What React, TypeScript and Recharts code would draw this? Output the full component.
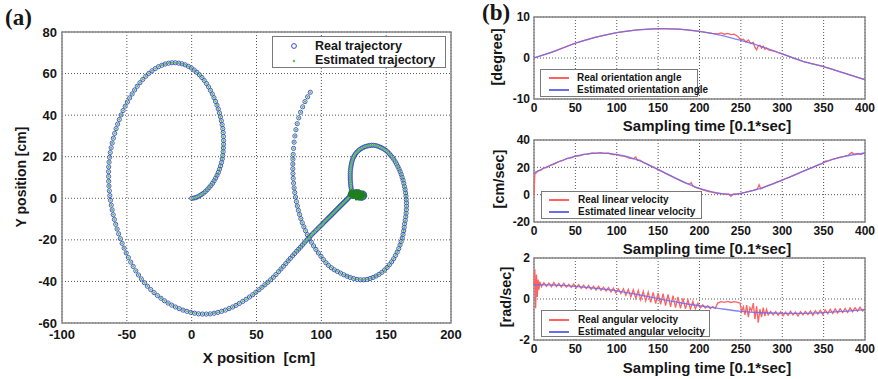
import React from 'react';
import {
  ScatterChart,
  Scatter,
  LineChart,
  Line,
  XAxis,
  YAxis,
  CartesianGrid,
  ReferenceArea,
} from 'recharts';

type Pair = [number, number];

const FONT = "'Liberation Sans', Arial, Helvetica, sans-serif";

// ---------- (a) robot trajectory, positions in cm, in travel order ----------
const outerArcStart: Pair[] = [
  [0, 0], [1.5, 0.1], [3, 0.3], [4.5, 0.7], [6, 1.2], [7.5, 1.8], [9, 2.4], [10.5, 3.2], [12, 4.1],
  [13.4, 5.1], [14.8, 6.1], [16.1, 7.2], [17.3, 8.4], [18.5, 9.7], [19.6, 11.1], [20.6, 12.5],
  [21.5, 14], [22.3, 15.6], [23, 17.2], [23.6, 18.9], [24, 20.6], [24.3, 22.4], [24.5, 24.2],
  [24.6, 26], [24.6, 27.8], [24.5, 29.7], [24.3, 31.6], [24, 33.5], [23.5, 35.4], [22.9, 37.3],
  [22.2, 39.2], [21.4, 41.1], [20.5, 43], [19.5, 44.8], [18.4, 46.6], [17.2, 48.4], [15.9, 50.2],
  [14.5, 51.9], [13, 53.6], [11.4, 55.2], [9.7, 56.7], [7.9, 58.1], [6, 59.4], [4, 60.6],
  [1.9, 61.7], [-0.3, 62.7], [-2.6, 63.5], [-5, 64.2], [-7.5, 64.7], [-10, 65], [-12.6, 65.2],
  [-15.2, 65.2], [-17.8, 65], [-20.4, 64.6],
];

const outerArcLeft: Pair[] = [
  [-23, 64], [-25.6, 63.3], [-28.1, 62.4], [-30.6, 61.3], [-33, 60.1], [-35.4, 58.7], [-37.7, 57.2],
  [-39.9, 55.6], [-42, 53.9], [-44, 52.1], [-45.9, 50.2], [-47.8, 48.3], [-49.6, 46.3], [-51.3, 44.3],
  [-52.9, 42.2], [-54.4, 40.1], [-55.8, 37.9], [-57.1, 35.7], [-58.3, 33.5], [-59.4, 31.2],
  [-60.4, 28.9], [-61.3, 26.6], [-62.1, 24.3], [-62.8, 22], [-63.3, 19.7], [-63.7, 17.4], [-64, 15.1],
  [-64.1, 12.8], [-64.1, 10.5], [-64, 8.2], [-63.8, 5.9], [-63.5, 3.6], [-63.1, 1.3], [-62.6, -1],
  [-62, -3.3], [-61.3, -5.6], [-60.5, -7.9], [-59.6, -10.2], [-58.6, -12.5], [-57.5, -14.8],
  [-56.3, -17.1], [-55, -19.4], [-53.6, -21.7], [-52.1, -24], [-50.5, -26.3], [-48.8, -28.5],
  [-47, -30.7], [-45.1, -32.8], [-43.1, -34.9], [-41, -36.9], [-38.8, -38.8], [-36.5, -40.6],
  [-34.1, -42.3], [-31.6, -43.9], [-29, -45.4], [-26.4, -46.8], [-23.7, -48.1], [-21, -49.3],
  [-18.2, -50.4], [-15.4, -51.4], [-12.5, -52.3], [-9.6, -53.1], [-6.7, -53.8], [-3.7, -54.4],
  [-0.7, -54.9], [2.3, -55.3], [5.3, -55.6], [8.3, -55.7], [11.3, -55.7], [14.3, -55.6],
  [17.3, -55.3], [20.2, -54.9], [23.1, -54.4], [26, -53.8], [28.8, -53.1], [31.6, -52.3],
];

const approachRun: Pair[] = [
  [34.2, -51.5], [36.8, -50.6], [39.4, -49.6], [42, -48.6], [44.6, -47.5], [47.1, -46.4],
  [49.5, -45.2], [51.9, -44], [54.2, -42.8], [56.5, -41.6], [58.7, -40.4], [60.9, -39.2], [63, -38],
  [65, -36.7], [67, -35.3], [68.9, -34], [70.8, -32.7], [72.6, -31.4], [74.4, -30.1], [76.1, -28.9],
  [77.8, -27.7], [79.4, -26.6], [81, -25.5], [82.5, -24.5], [84, -23.5], [85.4, -22.5], [86.8, -21.5],
  [88.1, -20.5], [89.4, -19.6], [90.7, -18.7], [92, -17.9], [93.2, -17.1], [94.4, -16.4],
  [95.5, -15.7], [96.6, -15], [97.7, -14.3], [98.7, -13.7], [99.7, -13.1], [100.7, -12.45],
  [101.6, -11.9], [102.5, -11.3], [103.4, -10.8], [104.3, -10.2], [105.1, -9.7], [105.9, -9.2],
  [106.7, -8.7], [107.5, -8.2], [108.2, -7.8], [108.9, -7.3], [109.6, -6.9], [110.3, -6.45],
  [111, -6], [111.7, -5.6], [112.4, -5.1], [113, -4.8], [113.6, -4.4], [114.2, -4], [114.8, -3.6],
  [115.4, -3.3], [116, -2.9], [116.6, -2.5], [117.2, -2.1], [117.8, -1.8], [118.4, -1.4], [119, -1],
  [119.6, -0.65], [120.2, -0.3], [120.8, 0.1], [121.4, 0.5], [122, 0.9], [122.6, 1.3], [123.2, 1.7],
  [123.8, 2],
];

const holdAndClimb: Pair[] = [
  [124.5, 2.4], [125.5, 2.9], [126.8, 3.2], [128.2, 3.1], [129.6, 2.8], [131, 2.6], [132.3, 2.5],
  [133.3, 2], [133.5, 1.2], [132.9, 0.5], [131.8, 0.1], [130.5, 0], [129.1, 0.2], [127.7, 0.6],
  [126.4, 1], [125.2, 1.5], [124.2, 2.2], [123.5, 3], [123.2, 3.9], [123, 4.8], [122.8, 5.7],
  [122.6, 6.6], [122.5, 7.5], [122.4, 8.4], [122.3, 9.3], [122.3, 10.2], [122.3, 11.1], [122.3, 12],
  [122.4, 12.9], [122.5, 13.8], [122.7, 14.7], [122.9, 15.6], [123.2, 16.5], [123.5, 17.4],
  [123.9, 18.3], [124.4, 19.2], [125, 20], [125.7, 20.8], [126.5, 21.5], [127.4, 22.2], [128.4, 22.8],
  [129.5, 23.4], [130.7, 23.9], [131.9, 24.3], [133.2, 24.7], [134.5, 25], [135.9, 25.2],
];

const innerLoopAndExit: Pair[] = [
  [137.3, 25.4], [138.7, 25.5], [140.1, 25.5], [141.5, 25.4], [142.9, 25.2], [144.3, 24.9],
  [145.7, 24.5], [147.1, 24.1], [148.5, 23.6], [149.8, 23], [151.1, 22.3], [152.4, 21.5],
  [153.6, 20.6], [154.8, 19.7], [155.9, 18.7], [157, 17.6], [158, 16.5], [159, 15.3], [159.9, 14.1],
  [160.8, 12.8], [161.6, 11.5], [162.3, 10.1], [163, 8.7], [163.6, 7.2], [164.1, 5.7], [164.6, 4.2],
  [165, 2.6], [165.3, 1], [165.5, -0.6], [165.7, -2.2], [165.7, -3.8], [165.6, -5.5], [165.4, -7.2],
  [165.1, -8.9], [164.7, -10.6], [164.2, -12.3], [163.9, -14], [163.5, -15.7], [163, -17.4],
  [162.4, -19.1], [161.6, -20.8], [160.7, -22.5], [159.7, -24.2], [158.5, -25.9], [157.2, -27.5],
  [155.8, -29.1], [154.2, -30.6], [152.5, -32], [150.7, -33.3], [148.8, -34.5], [146.7, -35.6],
  [144.5, -36.6], [142.2, -37.4], [139.9, -38.1], [137.6, -38.6], [135.2, -39], [132.7, -39.2],
  [130.1, -39.2], [127.5, -39], [124.9, -38.6], [122.3, -38.1], [119.8, -37.5], [117.3, -36.8],
  [114.8, -36], [112.4, -35.2], [110, -34.4], [107.7, -33.4], [105.5, -32.3], [103.5, -31],
  [101.6, -29.5], [99.7, -27.9], [97.7, -26.3], [95.8, -24.6], [94, -22.9], [92.3, -21.1],
  [90.7, -19.3], [89.2, -17.5], [87.8, -15.6], [86.5, -13.7], [85.3, -11.8], [84.2, -9.8],
  [83.2, -7.8], [82.3, -5.8], [81.5, -3.7], [80.8, -1.6], [80.1, 0.6], [79.5, 2.8], [79, 5],
  [78.6, 7.3], [78.3, 9.6], [78.1, 11.9], [78, 14.2], [78, 16.5], [78.1, 18.8], [78.3, 21.1],
  [78.6, 24], [79, 27], [79.6, 30], [80.4, 33], [81.4, 35.9], [82.6, 38.7], [84, 41.4], [85.6, 44],
  [87.4, 46.5], [89.4, 48.8], [91.5, 51],
];

// filter estimate while the robot is nearly stopped
const estimatedHold: Pair[] = [
  [123, 3.6], [125, 3.6], [127, 3.6], [129, 3.6],
  [122, 2.8], [124, 2.8], [126, 2.8], [128, 2.8], [130, 2.8], [132, 2.8],
  [121.5, 2], [123, 2], [125, 2], [127, 2], [129, 2], [131, 2], [133, 2],
  [122, 1.2], [124, 1.2], [126, 1.2], [128, 1.2], [130, 1.2], [132, 1.2], [133.8, 1.2],
  [124, 0.4], [126, 0.4], [128, 0.4], [130, 0.4], [132, 0.4],
  [127, -0.3], [129, -0.3], [131, -0.3],
];

const xTicksA = [-100, -50, 0, 50, 100, 150, 200];
const yTicksA = [-60, -40, -20, 0, 20, 40, 60, 80];

// ---------- (b) time histories, [sample, value] ----------
const timeTicks = [0, 50, 100, 150, 200, 250, 300, 350, 400];

const orientationEstimated: Pair[] = [
  [0, 0], [25, 1.7], [50, 3.6], [75, 5.1], [100, 6.2], [125, 6.85], [150, 7.15], [175, 7.05],
  [200, 6.5], [225, 5.6], [250, 4.3], [275, 2.8], [300, 1.0], [325, -0.8], [350, -2.1],
  [375, -3.7], [400, -5.3],
];
const orientationReal: Pair[] = [
  [0, 0], [25, 1.7], [50, 3.6], [75, 5.1], [100, 6.2], [125, 6.85], [150, 7.15], [175, 7.05],
  [200, 6.5], [215, 6.0], [222, 5.9], [226, 6.1], [230, 5.8], [234, 6.0], [238, 5.7], [242, 5.8],
  [246, 5.3], [250, 4.4], [253, 4.6], [256, 3.9], [259, 4.4], [262, 3.5], [265, 3.8], [267, 2.6],
  [269, 2.0], [271, 3.0], [273, 3.1], [275, 2.4], [277, 2.9], [279, 2.1], [281, 2.4], [284, 1.9],
  [290, 1.7], [300, 1.0], [325, -0.8], [350, -2.1], [375, -3.7], [400, -5.3],
];
const orientationTicks = [-10, 0, 10];

const linearEstimated: Pair[] = [
  [0, 16], [25, 23], [50, 28.2], [75, 30.4], [100, 29.5], [125, 25.5], [150, 18.5], [175, 11],
  [200, 4.6], [225, 0.9], [240, 0.1], [250, 0.9], [275, 4.8], [300, 10.6], [325, 17], [350, 23.5],
  [375, 28], [400, 30.5],
];
const linearReal: Pair[] = [
  [0, 0], [1, 15], [3, 16.2], [5, 17.5], [8, 17.8], [12, 19.5], [16, 20], [20, 21.5], [25, 22.5],
  [30, 24.2], [35, 25], [40, 26.5], [45, 27], [50, 28.3], [55, 28.4], [60, 29.5], [65, 29.6],
  [70, 30.6], [75, 30.2], [80, 30.8], [85, 30.2], [90, 30.3], [95, 29.4], [100, 29.3], [105, 28.4],
  [110, 28], [115, 26.8], [120, 26.2], [123, 27.5], [125, 25.2], [128, 25.2], [132, 23.5],
  [136, 22.5], [140, 21.2], [145, 19.8], [150, 18.3], [155, 16.8], [160, 15.2], [165, 13.7],
  [170, 12.2], [175, 10.8], [180, 9.3], [185, 8], [188, 7.7], [190, 8.8], [192, 6.3], [195, 5.3],
  [200, 4.5], [205, 3.4], [210, 2.5], [215, 1.8], [220, 1.2], [225, 0.8], [230, 0.4], [235, 0.3],
  [238, -1.2], [241, 0.6], [245, 0.4], [250, 1], [255, 1.6], [260, 2.4], [265, 3.2], [270, 4.2],
  [272, 7.3], [274, 4.3], [278, 5.5], [283, 6.8], [288, 7.8], [293, 9.2], [298, 10.1], [303, 11.6],
  [308, 12.6], [313, 14], [318, 15.2], [323, 16.6], [328, 17.7], [333, 19.1], [338, 20.2],
  [343, 21.6], [348, 22.6], [352, 24.5], [356, 24.9], [360, 25.8], [365, 26.6], [370, 27.5],
  [375, 28], [380, 29], [384, 30.9], [387, 29.4], [391, 30.2], [395, 29.6], [400, 30.5],
];
const linearTicks = [-20, 0, 20, 40];

const angularEstimated: Pair[] = [
  [0, 0.7], [25, 0.68], [50, 0.62], [75, 0.52], [100, 0.4], [125, 0.22], [150, 0.02], [175, -0.17],
  [200, -0.33], [225, -0.47], [250, -0.6], [275, -0.67], [300, -0.7], [325, -0.7], [350, -0.66],
  [375, -0.6], [400, -0.52],
];
const angularReal: Pair[] = [
  [0, 0.7], [1, 1.45], [2, -0.45], [3, 1.2], [4, 0.1], [5, 0.95], [6, 0.45], [7, 0.85], [9, 0.6],
  [12, 0.8], [15, 0.62], [18, 0.78], [21, 0.6], [24, 0.8], [27, 0.6], [30, 0.76], [33, 0.58],
  [36, 0.77], [39, 0.58], [42, 0.72], [45, 0.56], [48, 0.73], [51, 0.53], [54, 0.7], [57, 0.52],
  [60, 0.68], [63, 0.5], [66, 0.66], [69, 0.47], [72, 0.63], [75, 0.44], [78, 0.62], [81, 0.42],
  [84, 0.58], [87, 0.39], [90, 0.56], [93, 0.34], [96, 0.53], [99, 0.3], [102, 0.5], [105, 0.26],
  [108, 0.5], [111, 0.18], [114, 0.47], [117, 0.1], [120, 0.45], [123, 0.03], [126, 0.42],
  [129, -0.04], [132, 0.38], [135, -0.1], [138, 0.34], [141, -0.16], [144, 0.32], [147, -0.22],
  [150, 0.28], [153, -0.26], [156, 0.26], [159, -0.32], [162, 0.22], [165, -0.38], [168, 0.16],
  [171, -0.42], [174, 0.1], [177, -0.46], [180, 0.03], [183, -0.48], [186, -0.04], [189, -0.5],
  [192, -0.12], [195, -0.48], [198, -0.2], [201, -0.44], [204, -0.28], [207, -0.44], [210, -0.33],
  [213, -0.47], [216, -0.37], [219, -0.45], [222, -0.2], [226, -0.13], [230, -0.16], [234, -0.12],
  [238, -0.17], [242, -0.13], [246, -0.16], [249, -0.2], [251, -0.62], [253, -0.38], [255, -0.78],
  [257, -0.3], [259, -0.88], [261, -0.42], [263, -0.58], [265, -0.2], [267, -0.98], [269, -0.35],
  [271, -1.15], [273, -0.5], [275, -0.88], [277, -0.42], [279, -0.84], [281, -0.5], [283, -0.78],
  [286, -0.6], [289, -0.78], [292, -0.62], [295, -0.8], [298, -0.62], [301, -0.82], [304, -0.64],
  [307, -0.8], [310, -0.6], [313, -0.78], [316, -0.64], [319, -0.83], [322, -0.62], [325, -0.78],
  [328, -0.6], [331, -0.76], [334, -0.58], [337, -0.8], [340, -0.57], [343, -0.74], [346, -0.55],
  [349, -0.76], [352, -0.53], [355, -0.72], [358, -0.5], [361, -0.7], [364, -0.48], [367, -0.68],
  [370, -0.47], [373, -0.66], [376, -0.46], [379, -0.66], [382, -0.44], [385, -0.62], [388, -0.42],
  [391, -0.6], [394, -0.4], [397, -0.58], [400, -0.46],
];
const angularTicks = [-2, 0, 2];

// ---------- helpers ----------
const toXY = (pts: Pair[]) => pts.map(([x, y]) => ({ x, y }));
const toTV = (pts: Pair[]) => pts.map(([t, v]) => ({ t, v }));

const realPath = toXY([
  ...outerArcStart,
  ...outerArcLeft,
  ...approachRun,
  ...holdAndClimb,
  ...innerLoopAndExit,
]);
const estimatedPath = realPath;
const estimatedHoldPts = toXY(estimatedHold);

const RING = '#3a4bc4';
const GREEN = '#5cbf5c';
const GREEN_DARK = '#1f7f1f';
const RED = '#ff6262';
const BLUE = '#6c6cf0';
const GRID = '#5a5a5a';
const BOX = '#858585';
const INK = '#161616';

const ringShape = (p: any) => (
  <circle cx={p.cx} cy={p.cy} r={2.1} fill="none" stroke={RING} strokeWidth={0.9} />
);
const dotShape = (p: any) => <circle cx={p.cx} cy={p.cy} r={1.15} fill={GREEN} />;
const holdShape = (p: any) => <circle cx={p.cx} cy={p.cy} r={1.6} fill={GREEN_DARK} />;

const abs = (left: number, top: number): React.CSSProperties => ({
  position: 'absolute',
  left,
  top,
});

function Title({
  text,
  cx,
  cy,
  size,
  rotate = false,
}: {
  text: string;
  cx: number;
  cy: number;
  size: number;
  rotate?: boolean;
}) {
  return (
    <div
      style={{
        position: 'absolute',
        left: cx,
        top: cy,
        transform: `translate(-50%, -50%)${rotate ? ' rotate(-90deg)' : ''}`,
        whiteSpace: 'pre',
        fontFamily: FONT,
        fontWeight: 700,
        fontSize: size,
        lineHeight: 1,
        color: INK,
      }}
    >
      {text}
    </div>
  );
}

function PanelTag({ text, left, top }: { text: string; left: number; top: number }) {
  return (
    <div
      style={{
        ...abs(left, top),
        fontFamily: "'Liberation Serif', 'Times New Roman', serif",
        fontWeight: 700,
        fontSize: 23,
        lineHeight: 1,
        color: INK,
      }}
    >
      {text}
    </div>
  );
}

type LegendItem = { label: string; y: number; kind: 'ring' | 'dot' | 'line'; color: string };

function LegendBox({
  left,
  top,
  width,
  height,
  items,
  markerX,
  textX,
  fontSize,
}: {
  left: number;
  top: number;
  width: number;
  height: number;
  items: LegendItem[];
  markerX: number;
  textX: number;
  fontSize: number;
}) {
  return (
    <div
      style={{
        ...abs(left, top),
        width,
        height,
        boxSizing: 'border-box',
        border: '1px solid #7a7a7a',
        background: '#fff',
      }}
    >
      {items.map((it) => (
        <React.Fragment key={it.label}>
          <svg
            width={24}
            height={8}
            style={{ position: 'absolute', left: markerX - 12, top: it.y - 4 }}
          >
            {it.kind === 'ring' && (
              <circle cx={12} cy={4} r={2.4} fill="none" stroke={it.color} strokeWidth={1} />
            )}
            {it.kind === 'dot' && <circle cx={12} cy={4} r={1.2} fill={it.color} />}
            {it.kind === 'line' && (
              <line x1={2} y1={4} x2={22} y2={4} stroke={it.color} strokeWidth={2} />
            )}
          </svg>
          <div
            style={{
              position: 'absolute',
              left: textX,
              top: it.y - fontSize * 0.6,
              fontFamily: FONT,
              fontWeight: 700,
              fontSize,
              lineHeight: `${fontSize * 1.2}px`,
              whiteSpace: 'nowrap',
              color: INK,
            }}
          >
            {it.label}
          </div>
        </React.Fragment>
      ))}
    </div>
  );
}

const Y_AXIS_W = 40;
const X_AXIS_H = 20;

function TimePanel({
  top,
  height,
  marginTop,
  marginBottom,
  ticks,
  real,
  estimated,
}: {
  top: number;
  height: number;
  marginTop: number;
  marginBottom: number;
  ticks: number[];
  real: Pair[];
  estimated: Pair[];
}) {
  const lo = ticks[0];
  const hi = ticks[ticks.length - 1];
  const tickStyle = { fontSize: 12, fontWeight: 700, fill: INK, fontFamily: FONT };
  return (
    <div style={abs(480, top)}>
      <LineChart
        width={398}
        height={height}
        margin={{ top: marginTop, right: 13, bottom: marginBottom - X_AXIS_H, left: 54 - Y_AXIS_W }}
      >
        <CartesianGrid stroke={GRID} strokeDasharray="1 2" />
        <XAxis
          type="number"
          dataKey="t"
          domain={[0, 400]}
          ticks={timeTicks}
          height={X_AXIS_H}
          axisLine={false}
          tickLine={false}
          tickSize={2}
          tickMargin={2}
          tick={tickStyle}
          interval={0}
        />
        <YAxis
          type="number"
          dataKey="v"
          domain={[lo, hi]}
          ticks={ticks}
          width={Y_AXIS_W}
          axisLine={false}
          tickLine={false}
          tickSize={2}
          tickMargin={2}
          tick={tickStyle}
          interval={0}
        />
        <ReferenceArea x1={0} x2={400} y1={lo} y2={hi} fill="none" stroke={BOX} strokeWidth={1.4} />
        <Line
          data={toTV(real)}
          dataKey="v"
          type="linear"
          stroke={RED}
          strokeWidth={1.3}
          dot={false}
          activeDot={false}
          isAnimationActive={false}
        />
        <Line
          data={toTV(estimated)}
          dataKey="v"
          type="natural"
          stroke={BLUE}
          strokeOpacity={0.85}
          strokeWidth={1.3}
          dot={false}
          activeDot={false}
          isAnimationActive={false}
        />
      </LineChart>
    </div>
  );
}

export default function App() {
  const tickA = { fontSize: 13, fontWeight: 700, fill: INK, fontFamily: FONT };
  return (
    <div
      style={{
        position: 'absolute',
        left: 0,
        top: 0,
        width: 878,
        height: 379,
        overflow: 'hidden',
        background: '#fff',
      }}
    >
      {/* (a) trajectory */}
      <div style={abs(0, 0)}>
        <ScatterChart
          width={472}
          height={379}
          margin={{ top: 32, right: 21, bottom: 56 - X_AXIS_H, left: 62 - Y_AXIS_W }}
        >
          <CartesianGrid stroke={GRID} strokeDasharray="1 2" />
          <XAxis
            type="number"
            dataKey="x"
            domain={[-100, 200]}
            ticks={xTicksA}
            height={X_AXIS_H}
            axisLine={false}
            tickLine={false}
            tickSize={3}
            tickMargin={4}
            tick={tickA}
            interval={0}
          />
          <YAxis
            type="number"
            dataKey="y"
            domain={[-60, 80]}
            ticks={yTicksA}
            width={Y_AXIS_W}
            axisLine={false}
            tickLine={false}
            tickSize={2}
            tickMargin={3}
            tick={tickA}
            interval={0}
          />
          <ReferenceArea x1={-100} x2={200} y1={-60} y2={80} fill="none" stroke={BOX} strokeWidth={1.5} />
          <Scatter data={realPath} shape={ringShape} isAnimationActive={false} />
          <Scatter data={estimatedPath} shape={dotShape} isAnimationActive={false} />
          <Scatter data={estimatedHoldPts} shape={holdShape} isAnimationActive={false} />
        </ScatterChart>
      </div>

      <LegendBox
        left={272}
        top={36}
        width={174}
        height={32}
        markerX={21}
        textX={42}
        fontSize={12.5}
        items={[
          { label: 'Real trajectory', y: 9, kind: 'ring', color: RING },
          { label: 'Estimated trajectory', y: 23.5, kind: 'dot', color: GREEN },
        ]}
      />

      <PanelTag text="(a)" left={5} top={6} />
      <Title text={'X position\u00a0 [cm]'} cx={259} cy={357} size={15} />
      <Title text="Y position [cm]" cx={21} cy={177} size={14} rotate />

      {/* (b) time histories */}
      <TimePanel
        top={0}
        height={130}
        marginTop={17}
        marginBottom={31}
        ticks={orientationTicks}
        real={orientationReal}
        estimated={orientationEstimated}
      />
      <TimePanel
        top={125}
        height={130}
        marginTop={15}
        marginBottom={33}
        ticks={linearTicks}
        real={linearReal}
        estimated={linearEstimated}
      />
      <TimePanel
        top={250}
        height={129}
        marginTop={8}
        marginBottom={39}
        ticks={angularTicks}
        real={angularReal}
        estimated={angularEstimated}
      />

      <LegendBox
        left={540}
        top={69}
        width={158}
        height={28}
        markerX={18}
        textX={36}
        fontSize={10}
        items={[
          { label: 'Real orientation angle', y: 7.5, kind: 'line', color: RED },
          { label: 'Estimated orientation angle', y: 19.5, kind: 'line', color: BLUE },
        ]}
      />
      <LegendBox
        left={541}
        top={191}
        width={161}
        height={28}
        markerX={17}
        textX={36}
        fontSize={10}
        items={[
          { label: 'Real linear velocity', y: 7.5, kind: 'line', color: RED },
          { label: 'Estimated linear velocity', y: 20, kind: 'line', color: BLUE },
        ]}
      />
      <LegendBox
        left={541}
        top={310}
        width={169}
        height={27}
        markerX={17}
        textX={36}
        fontSize={10}
        items={[
          { label: 'Real angular velocity', y: 8.5, kind: 'line', color: RED },
          { label: 'Estimated angular velocity', y: 20.5, kind: 'line', color: BLUE },
        ]}
      />

      <PanelTag text="(b)" left={482} top={1} />
      <Title text="Sampling time [0.1*sec]" cx={707} cy={125} size={15} />
      <Title text="Sampling time [0.1*sec]" cx={707} cy={248} size={15} />
      <Title text="Sampling time [0.1*sec]" cx={707} cy={367} size={15} />
      <Title text="[degree]" cx={497} cy={57} size={14.5} rotate />
      <Title text="[cm/sec]" cx={499} cy={179} size={14.5} rotate />
      <Title text="[rad/sec]" cx={506} cy={297} size={14.5} rotate />
    </div>
  );
}
